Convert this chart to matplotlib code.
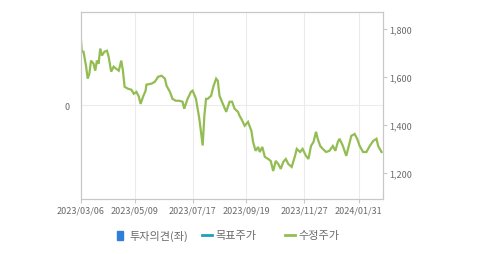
import numpy as np
import pandas as pd
import matplotlib
matplotlib.use('agg')
import matplotlib.pyplot as plt
from matplotlib.lines import Line2D
from matplotlib.patches import Rectangle
import matplotlib.dates as mdates
from matplotlib.ticker import FuncFormatter

plt.rcParams['font.family'] = ['Noto Sans CJK KR', 'DejaVu Sans']

# adjusted close (수정주가)
dates = ['2023-03-06', '2023-03-07', '2023-03-09', '2023-03-12', '2023-03-14', '2023-03-16',
         '2023-03-18', '2023-03-21', '2023-03-23', '2023-03-25', '2023-03-27', '2023-03-29',
         '2023-03-31', '2023-04-03', '2023-04-06', '2023-04-08', '2023-04-11', '2023-04-14',
         '2023-04-17', '2023-04-20', '2023-04-23', '2023-04-25', '2023-04-27', '2023-05-01',
         '2023-05-05', '2023-05-08', '2023-05-11', '2023-05-14', '2023-05-16', '2023-05-19',
         '2023-05-22', '2023-05-23', '2023-05-29', '2023-06-02', '2023-06-06', '2023-06-10',
         '2023-06-14', '2023-06-16', '2023-06-20', '2023-06-23', '2023-06-27', '2023-07-01',
         '2023-07-05', '2023-07-07', '2023-07-11', '2023-07-15', '2023-07-17', '2023-07-20',
         '2023-07-21', '2023-07-25', '2023-07-29', '2023-07-31', '2023-08-02', '2023-08-04',
         '2023-08-08', '2023-08-11', '2023-08-14', '2023-08-16', '2023-08-18', '2023-08-22',
         '2023-08-26', '2023-08-30', '2023-09-02', '2023-09-05', '2023-09-09', '2023-09-11',
         '2023-09-13', '2023-09-17', '2023-09-21', '2023-09-25', '2023-09-27', '2023-09-30',
         '2023-10-03', '2023-10-05', '2023-10-08', '2023-10-11', '2023-10-15', '2023-10-18',
         '2023-10-21', '2023-10-24', '2023-10-27', '2023-10-30', '2023-11-02', '2023-11-05',
         '2023-11-08', '2023-11-12', '2023-11-16', '2023-11-18', '2023-11-22', '2023-11-25',
         '2023-11-29', '2023-12-02', '2023-12-05', '2023-12-08', '2023-12-11', '2023-12-13',
         '2023-12-16', '2023-12-19', '2023-12-23', '2023-12-27', '2023-12-31', '2024-01-03',
         '2024-01-06', '2024-01-08', '2024-01-12', '2024-01-16', '2024-01-19', '2024-01-22',
         '2024-01-26', '2024-01-29', '2024-02-01', '2024-02-05', '2024-02-09', '2024-02-13',
         '2024-02-17', '2024-02-21', '2024-02-23', '2024-02-27']
prices = [1755, 1704, 1704, 1646, 1592, 1612,
          1667, 1654, 1625, 1667, 1654, 1717,
          1688, 1704, 1708, 1683, 1621, 1642,
          1633, 1625, 1667, 1625, 1558, 1550,
          1546, 1529, 1537, 1517, 1487, 1517,
          1542, 1567, 1571, 1579, 1600, 1604,
          1592, 1562, 1537, 1508, 1500, 1500,
          1496, 1467, 1508, 1537, 1542, 1517,
          1508, 1425, 1314, 1439, 1508, 1508,
          1521, 1562, 1592, 1583, 1521, 1487,
          1454, 1496, 1496, 1467, 1454, 1437,
          1425, 1396, 1412, 1375, 1329, 1292,
          1308, 1287, 1308, 1267, 1258, 1250,
          1208, 1250, 1237, 1217, 1246, 1258,
          1237, 1225, 1271, 1300, 1287, 1300,
          1271, 1258, 1312, 1329, 1371, 1342,
          1312, 1300, 1287, 1292, 1312, 1292,
          1329, 1342, 1312, 1271, 1312, 1354,
          1362, 1342, 1312, 1287, 1287, 1312,
          1333, 1342, 1312, 1287]

tick_dates = ['2023-03-06', '2023-05-09', '2023-07-17', '2023-09-19', '2023-11-27', '2024-01-31']
legend_labels = ['투자의견(좌)', '목표주가', '수정주가']

grey = '#c8c8c8'
txt = '#6a6a6a'
green = '#93bd52'

fig = plt.figure(figsize=(4.79, 2.55), dpi=100)
ax = fig.add_axes([0.169, 0.216, 0.631, 0.734])
ax2 = ax.twinx()

x = pd.to_datetime(dates)
ax2.plot(x, prices, color=green, lw=1.6, solid_joinstyle='miter')

ax.set_xlim(pd.Timestamp('2023-03-06'), pd.Timestamp('2024-02-29'))
ax.set_ylim(-1, 1)
ax.set_yticks([0])
ax.set_xticks(pd.to_datetime(tick_dates))
ax.xaxis.set_major_formatter(mdates.DateFormatter('%Y/%m/%d'))
ax.grid(True, color='#ebebeb', lw=0.75)
ax.set_axisbelow(True)

ax2.set_ylim(1092, 1870)
ax2.set_yticks([1200, 1400, 1600, 1800])
ax2.yaxis.set_major_formatter(FuncFormatter(lambda v, p: f'{int(v):,}'))

for a in (ax, ax2):
    for s in a.spines.values():
        s.set_color(grey)
        s.set_linewidth(0.8)
ax.tick_params(axis='x', colors=grey, labelcolor=txt, labelsize=6.5, length=3, width=0.8, pad=2)
ax.tick_params(axis='y', colors=grey, labelcolor=txt, labelsize=6.5, length=0, pad=8)
ax2.tick_params(axis='y', colors=grey, labelcolor=txt, labelsize=6.5, length=3, width=0.8, pad=1)

# legend below the plot
fy = 1 - 236 / 255
fig.patches.append(Rectangle((117 / 479, fy - 4.5 / 255), 6 / 479, 9 / 255,
                             transform=fig.transFigure, color='#2f7fd9'))
fig.text(129 / 479, fy, legend_labels[0], fontsize=8, color=txt, va='center')
fig.lines.append(Line2D([202 / 479, 212 / 479], [fy, fy], transform=fig.transFigure,
                        color='#1aa3b8', lw=2))
fig.text(215 / 479, fy, legend_labels[1], fontsize=8, color=txt, va='center')
fig.lines.append(Line2D([285 / 479, 295 / 479], [fy, fy], transform=fig.transFigure,
                        color=green, lw=2))
fig.text(298 / 479, fy, legend_labels[2], fontsize=8, color=txt, va='center')

fig.savefig('out.png', dpi=100)
